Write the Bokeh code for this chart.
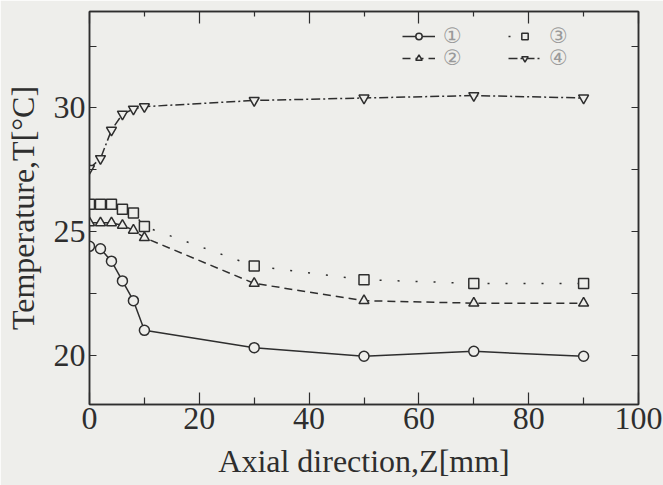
from bokeh.plotting import figure
from bokeh.models import FixedTicker, LinearAxis, Range1d, Legend, LegendItem
from bokeh.embed import file_html
from bokeh.resources import INLINE

# Data
z = [0, 2, 4, 6, 8, 10, 30, 50, 70, 90]
t1 = [24.4, 24.3, 23.8, 23.0, 22.2, 21.0, 20.3, 19.95, 20.15, 19.95]
t2 = [25.35, 25.35, 25.35, 25.25, 25.05, 24.75, 22.9, 22.2, 22.1, 22.1]
t3 = [26.1, 26.1, 26.1, 25.9, 25.75, 25.2, 23.6, 23.05, 22.9, 22.9]
t4 = [27.55, 27.95, 29.1, 29.75, 29.95, 30.05, 30.3, 30.4, 30.5, 30.4]
labels = ["①", "②", "③", "④"]
x_ticks = [0, 20, 40, 60, 80, 100]
x_minor = [10, 30, 50, 70, 90]
y_ticks = [20, 25, 30]
y_minor = [22.5, 27.5, 32.5]
x_title = "Axial direction,Z[mm]"
y_title = "Temperature,T[°C]"

BG = "#eeeeeb"
INK = "#2e2e2e"
FONT = "Liberation Serif"

p = figure(width=663, height=485, output_backend="svg", toolbar_location=None,
           x_range=Range1d(0, 100), y_range=Range1d(18, 33.9),
           min_border_left=89, min_border_right=25, min_border_top=11, min_border_bottom=81,
           background_fill_color=BG, border_fill_color=BG)
p.grid.visible = False
p.outline_line_color = INK
p.outline_line_width = 1.5

def style_axis(ax, ticks, minor, labels_on, major_len, minor_len):
    ax.ticker = FixedTicker(ticks=ticks, minor_ticks=minor)
    ax.axis_line_color = INK
    ax.axis_line_width = 1.5
    ax.major_tick_line_color = INK
    ax.minor_tick_line_color = INK
    ax.major_tick_line_width = 1.2
    ax.minor_tick_line_width = 1.2
    ax.major_tick_in = major_len
    ax.major_tick_out = 0
    ax.minor_tick_in = minor_len
    ax.minor_tick_out = 0
    ax.major_label_text_font = FONT
    ax.major_label_text_font_size = "32px"
    ax.major_label_text_color = INK
    ax.axis_label_text_font = FONT
    ax.axis_label_text_font_size = "32px"
    ax.axis_label_text_font_style = "normal"
    ax.axis_label_text_color = INK
    if not labels_on:
        ax.major_label_text_font_size = "0px"
        ax.major_label_text_alpha = 0
        ax.major_label_standoff = 0
        ax.axis_label_standoff = 0

xa = p.xaxis[0]
style_axis(xa, x_ticks, x_minor, True, 12, 7)
xa.axis_label = x_title
xa.major_label_standoff = 3
xa.axis_label_standoff = 11

ya = p.yaxis[0]
style_axis(ya, y_ticks, y_minor, True, 7, 7)
ya.axis_label = y_title
ya.major_label_standoff = 4
ya.axis_label_standoff = 10

top = LinearAxis()
style_axis(top, x_ticks, x_minor, False, 12, 5)
p.add_layout(top, "above")
right = LinearAxis()
style_axis(right, y_ticks, y_minor, False, 7, 7)
p.add_layout(right, "right")

series = [
    (t1, "circle", "solid"),
    (t2, "triangle", "8 5"),
    (t3, "square", "2 16"),
    (t4, "inverted_triangle", "9 3 2 3"),
]
items = []
for (t, marker, dash), lab in zip(series, labels):
    r1 = p.line(z, t, line_color=INK, line_width=1.5, line_dash=dash)
    r2 = p.scatter(z, t, marker=marker, size=10, line_color=INK, line_width=1.5,
                   fill_color=BG)
    items.append(LegendItem(label=lab, renderers=[r1, r2]))

def make_legend(its, loc):
    return Legend(items=its, orientation="horizontal", location=loc,
                  background_fill_alpha=0, border_line_alpha=0,
                  padding=0, margin=0, spacing=5,
                  glyph_width=33, glyph_height=16, label_standoff=8, label_height=16,
                  label_text_font="DejaVu Sans", label_text_font_size="21px",
                  label_text_color="#9a9a9a", label_width=60)

p.add_layout(make_legend([items[0], items[2]], (313, 356)), "center")
p.add_layout(make_legend([items[1], items[3]], (313, 334)), "center")

open("out.html", "w").write(file_html(p, INLINE))
